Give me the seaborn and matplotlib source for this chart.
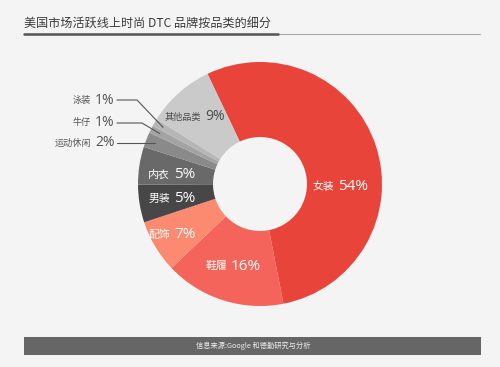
import matplotlib
matplotlib.use("Agg")
import matplotlib.pyplot as plt
import seaborn as sns
import numpy as np

# data
categories = ["女装", "鞋履", "配饰", "男装", "内衣", "运动休闲", "牛仔", "泳装", "其他品类"]
shares = [54, 16, 7, 5, 5, 2, 1, 1, 9]
colors = ["#e8443a", "#f4645a", "#fb8a70", "#474747", "#696969",
          "#8a8a8a", "#a3a3a3", "#b6b6b6", "#cacaca"]

title = "美国市场活跃线上时尚 DTC 品牌按品类的细分"
source = "信息来源:Google 和德勤研究与分析"

BG = "#f4f4f4"
sns.set_theme(style="white", rc={"figure.facecolor": BG, "axes.facecolor": BG})
plt.rcParams["font.family"] = ["Noto Sans CJK SC", "DejaVu Sans"]

W, H = 500, 367
CX, CY, R = 260, 184, 122  # pie centre / radius in pixels

fig = plt.figure(figsize=(W / 100, H / 100), dpi=100)
ax = fig.add_axes([(CX - R) / W, (H - CY - R) / H, 2 * R / W, 2 * R / H])
ax.set_facecolor(BG)

wedges, _ = ax.pie(shares, colors=colors, startangle=115.5, counterclock=False,
                   radius=1, wedgeprops=dict(width=0.615, linewidth=0))
ax.set_xlim(-1, 1)
ax.set_ylim(-1, 1)
ax.axis("off")


def px(x, y):
    # pixel position (from top-left) -> pie data coords
    return (x - CX) / R, (CY - y) / R


name_font = ["Noto Sans CJK SC", "DejaVu Sans"]
pct_font = ["Open Sans", "Noto Sans CJK SC"]

# label layout: split x (pixels), y (pixels), colour, sizes
label_pos = {
    "女装": (336, 187, "white", 7.8, 11),
    "鞋履": (229, 266, "white", 7.8, 11),
    "配饰": (172, 235, "white", 7.8, 11),
    "男装": (172, 199, "white", 7.8, 11),
    "内衣": (172, 175, "white", 7.8, 11),
    "其他品类": (203, 117, "#4a4a4a", 6.6, 10),
    "泳装": (93, 100, "#555555", 6.6, 10),
    "牛仔": (93, 123, "#555555", 6.6, 10),
    "运动休闲": (93, 143, "#555555", 6.6, 10),
}

for cat, val in zip(categories, shares):
    sx, sy, col, fs_name, fs_pct = label_pos[cat]
    x0, y0 = px(sx - 2, sy)
    x1, y1 = px(sx + 2, sy)
    ax.text(x0, y0, cat, ha="right", va="center", color=col,
            fontsize=fs_name, family=name_font)
    ax.text(x1, y1, f"{val}%", ha="left", va="center", color=col,
            fontsize=fs_pct, family=pct_font, fontweight="medium")

# leader lines for the small slices
elbows = {"泳装": 137, "牛仔": 142, "运动休闲": None}
for w, cat in zip(wedges, categories):
    if cat not in elbows:
        continue
    sy = label_pos[cat][1]
    mid = np.deg2rad((w.theta1 + w.theta2) / 2)
    ex, ey = 0.92 * np.cos(mid), 0.92 * np.sin(mid)
    sx, sy_d = px(117, sy)
    if elbows[cat] is None:
        xs, ys = [sx, ex], [sy_d, sy_d]
    else:
        bx, _ = px(elbows[cat], sy)
        xs, ys = [sx, bx, ex], [sy_d, sy_d, ey]
    ax.plot(xs, ys, color="#555555", lw=0.8, clip_on=False, zorder=5)

# title and rules
fig.text(24 / W, 1 - 23 / H, title, ha="left", va="center",
         fontsize=8.7, color="#3a3a3a", fontweight="medium")
fig.add_artist(plt.Line2D([24 / W, 480 / W], [1 - 34 / H] * 2,
                          color="#aaaaaa", lw=0.8))
fig.add_artist(plt.Line2D([24 / W, 278 / W], [1 - 33.5 / H] * 2,
                          color="#555555", lw=1.8))

# footer bar
fig.add_artist(plt.Rectangle((24 / W, 1 - 355 / H), 457 / W, 18 / H,
                             color="#666666", lw=0))
fig.text(253 / W, 1 - 346 / H, source, ha="center", va="center",
         fontsize=5.2, color="#eeeeee")

fig.savefig("out.png", dpi=100, facecolor=BG)
